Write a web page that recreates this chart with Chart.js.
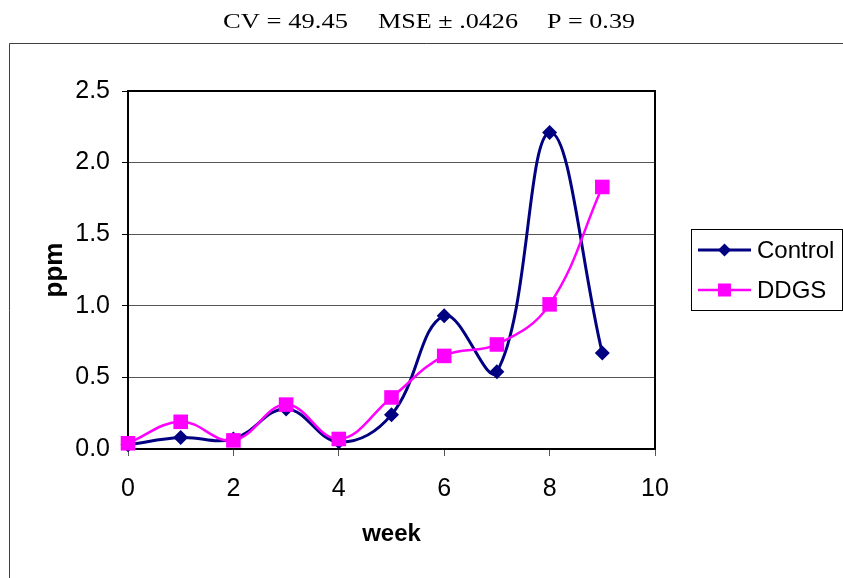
<!DOCTYPE html>
<html>
<head>
<meta charset="utf-8">
<script src="https://cdn.jsdelivr.net/npm/chart.js@4.4.1/dist/chart.umd.min.js"></script>
<style>
  html, body { margin: 0; padding: 0; background: #fff; }
  #wrap { width: 843px; height: 578px; }
</style>
</head>
<body>
<div id="wrap"><canvas id="chart" width="843" height="578"></canvas></div>
<script>
// weekly readings (ppm)
const weeks = [0, 1, 2, 3, 4, 5, 6, 7, 8, 9];
const control = [0.03, 0.08, 0.07, 0.28, 0.05, 0.24, 0.93, 0.54, 2.21, 0.67];
const ddgs = [0.04, 0.19, 0.06, 0.31, 0.07, 0.36, 0.65, 0.73, 1.01, 1.83];
const seriesNames = ['Control', 'DDGS'];
const titleParts = ['CV = 49.45', 'MSE \u00B1 .0426', 'P = 0.39'];

const NAVY = '#000080';
const MAGENTA = '#FF00FF';
const SANS = '"Liberation Sans", Arial, sans-serif';
const SERIF = '"Liberation Serif", "Times New Roman", serif';

const toPoints = (ys) => ys.map((y, i) => ({ x: weeks[i], y }));

// small marker paths, shared by the legend
function marker(ctx, style, x, y, r) {
  ctx.beginPath();
  if (style === 'rectRot') {
    ctx.moveTo(x, y - r);
    ctx.lineTo(x + r, y);
    ctx.lineTo(x, y + r);
    ctx.lineTo(x - r, y);
    ctx.closePath();
  } else {
    ctx.rect(x - r, y - r, 2 * r, 2 * r);
  }
  ctx.fill();
}

const decorations = {
  id: 'decorations',
  beforeDraw(chart) {
    const ctx = chart.ctx;
    ctx.save();
    // outer frame
    ctx.strokeStyle = '#404040';
    ctx.lineWidth = 1;
    ctx.beginPath();
    ctx.moveTo(9.5, 578);
    ctx.lineTo(9.5, 43.5);
    ctx.lineTo(843, 43.5);
    ctx.stroke();

    // heading, three groups spread across the top
    const spans = [[223, 348], [378, 518], [547, 635]];
    ctx.fillStyle = '#000';
    ctx.font = '22px ' + SERIF;
    ctx.textBaseline = 'alphabetic';
    ctx.textAlign = 'left';
    titleParts.forEach((t, i) => {
      const w = ctx.measureText(t).width;
      const [a, b] = spans[i];
      ctx.save();
      ctx.translate(a, 28);
      ctx.scale((b - a) / w, 1);
      ctx.fillText(t, 0, 0);
      ctx.restore();
    });
    ctx.restore();
  },
  beforeDatasetsDraw(chart) {
    const { ctx, chartArea: a } = chart;
    ctx.save();
    ctx.strokeStyle = '#000';
    ctx.lineWidth = 2;
    ctx.beginPath();
    ctx.moveTo(a.left, a.top);
    ctx.lineTo(a.right, a.top);
    ctx.lineTo(a.right, a.bottom);
    ctx.stroke();
    ctx.restore();
  },
  afterDraw(chart) {
    const ctx = chart.ctx;
    ctx.save();
    // legend box
    ctx.strokeStyle = '#000';
    ctx.lineWidth = 1;
    ctx.strokeRect(691.5, 229.5, 151, 81);
    ctx.font = '24px ' + SANS;
    ctx.textBaseline = 'middle';
    ctx.textAlign = 'left';
    const rows = [250, 290];
    chart.data.datasets.forEach((ds, i) => {
      const y = rows[i];
      ctx.strokeStyle = ds.borderColor;
      ctx.lineWidth = ds.borderWidth;
      ctx.beginPath();
      ctx.moveTo(698, y);
      ctx.lineTo(751, y);
      ctx.stroke();
      ctx.fillStyle = ds.borderColor;
      marker(ctx, ds.pointStyle, 724.5, y, 6.5);
      ctx.fillStyle = '#000';
      ctx.fillText(ds.label, 757, y + 1);
    });
    ctx.restore();
  }
};

new Chart(document.getElementById('chart'), {
  type: 'line',
  data: {
    datasets: [
      {
        label: seriesNames[0],
        data: toPoints(control),
        borderColor: NAVY,
        backgroundColor: NAVY,
        borderWidth: 3,
        pointStyle: 'rectRot',
        pointRadius: 7.5,
        pointBorderWidth: 0,
        pointBackgroundColor: NAVY,
        tension: 0.4,
        clip: false,
        order: 2
      },
      {
        label: seriesNames[1],
        data: toPoints(ddgs),
        borderColor: MAGENTA,
        backgroundColor: MAGENTA,
        borderWidth: 2.5,
        pointStyle: 'rect',
        pointRadius: 10.3,
        pointBorderWidth: 0,
        pointBackgroundColor: MAGENTA,
        tension: 0.4,
        clip: false,
        order: 1
      }
    ]
  },
  options: {
    responsive: false,
    devicePixelRatio: 1,
    animation: false,
    layout: { padding: { left: 0, top: 91, right: 188, bottom: 0 } },
    plugins: {
      legend: { display: false },
      tooltip: { enabled: false }
    },
    scales: {
      x: {
        type: 'linear',
        min: 0,
        max: 10,
        afterFit: (s) => { s.height = 129; },
        ticks: {
          stepSize: 2,
          padding: 18,
          color: '#000',
          font: { family: SANS, size: 25 }
        },
        grid: { drawOnChartArea: false, tickLength: 7, tickColor: '#555', tickWidth: 1 },
        border: { color: '#000', width: 2 },
        title: {
          display: true,
          text: 'week',
          color: '#000',
          font: { family: SANS, size: 24, weight: 'bold', lineHeight: 1.2 },
          padding: { top: 0, bottom: 29 }
        }
      },
      y: {
        min: 0,
        max: 2.5,
        afterFit: (s) => { s.width = 128; },
        ticks: {
          stepSize: 0.5,
          padding: 12,
          color: '#000',
          font: { family: SANS, size: 25 },
          callback: (v) => v.toFixed(1)
        },
        grid: { color: '#555', lineWidth: 1, tickLength: 6, tickColor: '#000' },
        border: { color: '#000', width: 2 },
        title: {
          display: true,
          text: 'ppm',
          color: '#000',
          font: { family: SANS, size: 26, weight: 'bold', lineHeight: 1.2 },
          padding: { top: 39, bottom: 0 }
        }
      }
    }
  },
  plugins: [decorations]
});
</script>
</body>
</html>
